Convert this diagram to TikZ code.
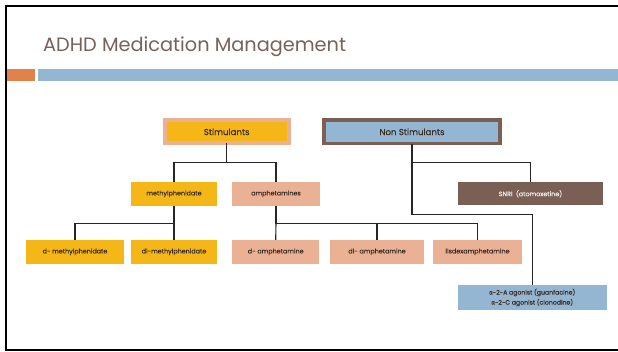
\documentclass[tikz,border=0pt]{standalone}
\usepackage{fontspec}
\setmainfont{Poppins}
\newfontfamily\labelfont{Poppins}[FakeBold=0.35]
\newfontfamily\greekfont{Fira Sans}[FakeBold=0.35]
\usetikzlibrary{calc}
\definecolor{titlebrown}{HTML}{76625A}
\definecolor{accentorange}{HTML}{E0824A}
\definecolor{steelblue}{HTML}{94B6D2}
\definecolor{gold}{HTML}{F5B618}
\definecolor{salmon}{HTML}{EBB194}
\definecolor{earth}{HTML}{7A5F55}
\definecolor{labeltext}{HTML}{3A2E24}
\tikzset{
  box/.style={inner sep=0pt, outer sep=0pt, text=labeltext, align=center},
  small/.style={box, minimum height=23.8, font=\labelfont\fontsize{6.4}{7}\selectfont},
  goldbox/.style={small, fill=gold},
  salmonbox/.style={small, fill=salmon},
  link/.style={draw=black!85, line width=1.1pt}
}
\begin{document}
\begin{tikzpicture}[x=1pt,y=-1pt]
  \useasboundingbox (0,0) rectangle (618,352);
  \fill[white] (0,0) rectangle (618,352);
  % slide frame
  \draw[black, line width=2.2pt] (620,5.7) -- (6,5.7) -- (6,349.8) -- (620,349.8);
  % title and header bars
  \node[anchor=base west, inner sep=0pt, text=titlebrown,
        font=\fontsize{19.3}{23}\selectfont] (title) at (43,52) {ADHD Medication Management};
  \fill[accentorange] (7,69) rectangle (35,80.7);
  \fill[steelblue] (38,69) rectangle (618,80.7);

  % top level
  \node[box, draw=salmon, line width=4.3pt, fill=gold, minimum width=124, minimum height=23,
        font=\labelfont\fontsize{8.6}{9}\selectfont] (stim) at (226.7,131.8) {Stimulants};
  \node[box, draw=earth, line width=3.3pt, fill=steelblue, minimum width=176, minimum height=23.7,
        font=\labelfont\fontsize{8.6}{9}\selectfont] (nons) at (412,131.8) {Non Stimulants};

  % second level
  \node[goldbox, minimum width=86] (meth) at (174,193.8) {methylphenidate};
  \node[salmonbox, minimum width=88] (amph) at (276,193.8) {amphetamines};
  \node[small, fill=earth, text=white!92!earth, minimum width=144.4, minimum height=23] (snri) at (530.5,193.8) {SNRI\ \ (atomoxetine)};

  % third level
  \node[goldbox, minimum width=98] (dmeth) at (75,251.8) {d- methylphenidate};
  \node[goldbox, minimum width=86] (dlmeth) at (174,251.8) {dl-methylphenidate};
  \node[salmonbox, minimum width=87.5] (damph) at (275.7,251.8) {d- amphetamine};
  \node[salmonbox, minimum width=94] (dlamph) at (377,251.8) {dl- amphetamine};
  \node[salmonbox, minimum width=89] (lisdex) at (477.5,251.8) {lisdexamphetamine};
  \node[small, fill=steelblue, minimum width=149, minimum height=25,
        font=\labelfont\fontsize{6.2}{10}\selectfont] (alpha) at (532.2,297.5)
        {{\greekfont α}-2-A agonist (guanfacine)\\{\greekfont α}-2-C agonist (clonodine)};

  % rails of the tree
  \coordinate (railA) at (0,162.8);
  \coordinate (railB) at (0,223.3);
  \coordinate (railC) at (0,214.5);

  % connectors
  \draw[link] (stim.south) -- (stim.south |- railA) -| (meth.north);
  \draw[link] (stim.south |- railA) -| (amph.north);
  \draw[link] (nons.south) -- (nons.south |- railC) -| (alpha.north);
  \draw[link] (nons.south |- railA) -| (snri.north);
  \draw[link] (meth.south) -- (meth.south |- railB) -| (dmeth.north);
  \draw[link] (meth.south |- railB) -- (dlmeth.north);
  \draw[link] (amph.south) -- (amph.south |- railB) -| (lisdex.north);
  \draw[link] (amph.south |- railB) -- (damph.north);
  \draw[link] (dlamph.north |- railB) -- (dlamph.north);
\end{tikzpicture}
\end{document}
